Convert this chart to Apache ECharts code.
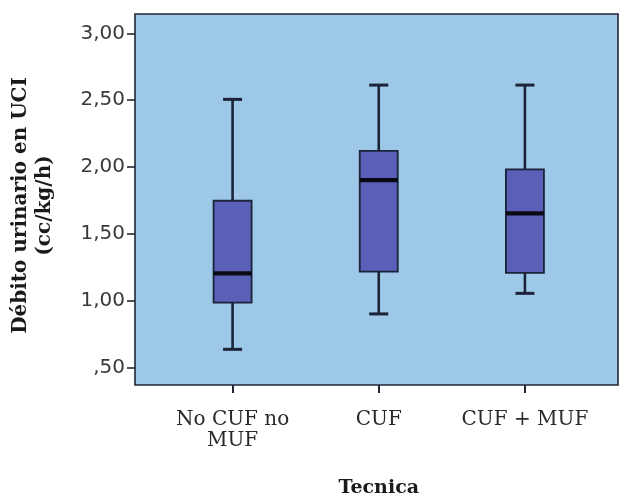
<!DOCTYPE html>
<html>
<head>
<meta charset="utf-8">
<script src="https://cdn.jsdelivr.net/npm/echarts@6/dist/echarts.min.js"></script>
<style>
  html, body { margin: 0; padding: 0; background: #ffffff; }
  #chart { width: 620px; height: 497px; }
</style>
</head>
<body>
<div id="chart"></div>
<script>
// Data
const categories = ['No CUF no\nMUF', 'CUF', 'CUF + MUF'];
const whiskerMin = [0.635, 0.90, 1.054];
const quartile1  = [0.984, 1.216, 1.208];
const medians    = [1.204, 1.902, 1.653];
const quartile3  = [1.747, 2.121, 1.982];
const whiskerMax = [2.506, 2.613, 2.613];
const yTicks = [0.5, 1.0, 1.5, 2.0, 2.5, 3.0];
const yTickLabels = [',50', '1,00', '1,50', '2,00', '2,50', '3,00'];

const yMin = 0.368, yMax = 3.145;

const boxData = categories.map((c, i) => [i, whiskerMin[i], quartile1[i], medians[i], quartile3[i], whiskerMax[i]]);

const chart = echarts.init(document.getElementById('chart'), null, { renderer: 'canvas' });

const lineColor = '#1c2238';

function renderBox(params, api) {
  const i = api.value(0);
  const vMin = api.value(1), vQ1 = api.value(2), vMed = api.value(3), vQ3 = api.value(4), vMax = api.value(5);
  const band = api.size([1, 0])[0];
  const boxW = band * 0.26;
  const capW = band * 0.13;
  const pMin = api.coord([i, vMin]);
  const pQ1 = api.coord([i, vQ1]);
  const pMed = api.coord([i, vMed]);
  const pQ3 = api.coord([i, vQ3]);
  const pMax = api.coord([i, vMax]);
  const x = pMed[0];
  const lw = { stroke: lineColor, lineWidth: 2.6 };
  return {
    type: 'group',
    children: [
      { type: 'line', shape: { x1: x, y1: pQ3[1], x2: x, y2: pMax[1] }, style: lw },
      { type: 'line', shape: { x1: x, y1: pQ1[1], x2: x, y2: pMin[1] }, style: lw },
      { type: 'line', shape: { x1: x - capW / 2, y1: pMax[1], x2: x + capW / 2, y2: pMax[1] }, style: { stroke: lineColor, lineWidth: 3 } },
      { type: 'line', shape: { x1: x - capW / 2, y1: pMin[1], x2: x + capW / 2, y2: pMin[1] }, style: { stroke: lineColor, lineWidth: 3 } },
      { type: 'rect', shape: { x: x - boxW / 2, y: pQ3[1], width: boxW, height: pQ1[1] - pQ3[1] },
        style: { fill: '#5a60b8', stroke: lineColor, lineWidth: 1.8 } },
      { type: 'line', shape: { x1: x - boxW / 2, y1: pMed[1], x2: x + boxW / 2, y2: pMed[1] }, style: { stroke: '#0a0a14', lineWidth: 4.2 } }
    ]
  };
}

const option = {
  animation: false,
  grid: [
    { left: 135, right: 2, top: 14, bottom: 112, outerBoundsMode: 'none', containLabel: false,
      show: true, backgroundColor: '#9dc8e8', borderColor: '#222633', borderWidth: 1.6 },
    { left: 159.5, right: 22, top: 14, bottom: 112, outerBoundsMode: 'none', containLabel: false }
  ],
  xAxis: [
    { gridIndex: 0, type: 'value', min: 0, max: 1, show: false },
    {
      gridIndex: 1, type: 'category', data: categories,
      axisLine: { show: false },
      axisTick: { show: true, alignWithLabel: true, length: 8, lineStyle: { color: '#222633', width: 2 } },
      axisLabel: { interval: 0, fontFamily: 'DejaVu Serif', fontSize: 20, color: '#2a2a2a', margin: 24, lineHeight: 21 },
      name: 'Tecnica', nameLocation: 'middle', nameGap: 94,
      nameTextStyle: { fontFamily: 'DejaVu Serif', fontWeight: 'bold', fontSize: 19, color: '#1a1a1a' }
    }
  ],
  yAxis: [
    {
      gridIndex: 0, type: 'value', min: yMin, max: yMax,
      splitLine: { show: false },
      axisLine: { show: false },
      axisTick: { show: true, length: 8, customValues: yTicks, lineStyle: { color: '#222633', width: 1.6 } },
      axisLabel: {
        customValues: yTicks, fontFamily: 'DejaVu Sans', fontSize: 20, color: '#3a3a3a', margin: 10,
        formatter: function (v) { const k = yTicks.indexOf(v); return k >= 0 ? yTickLabels[k] : ''; }
      },
      name: 'Débito urinario en UCI\n(cc/kg/h)', nameLocation: 'middle', nameGap: 78, nameRotate: 90,
      nameTextStyle: { fontFamily: 'DejaVu Serif', fontWeight: 'bold', fontSize: 20, color: '#1a1a1a', lineHeight: 24, padding: [0, 12, 0, 0] }
    },
    { gridIndex: 1, type: 'value', min: yMin, max: yMax, show: false }
  ],
  series: [
    {
      type: 'custom', xAxisIndex: 1, yAxisIndex: 1,
      renderItem: renderBox,
      encode: { x: 0, y: [1, 2, 3, 4, 5] },
      data: boxData
    }
  ]
};

chart.setOption(option);
</script>
</body>
</html>
